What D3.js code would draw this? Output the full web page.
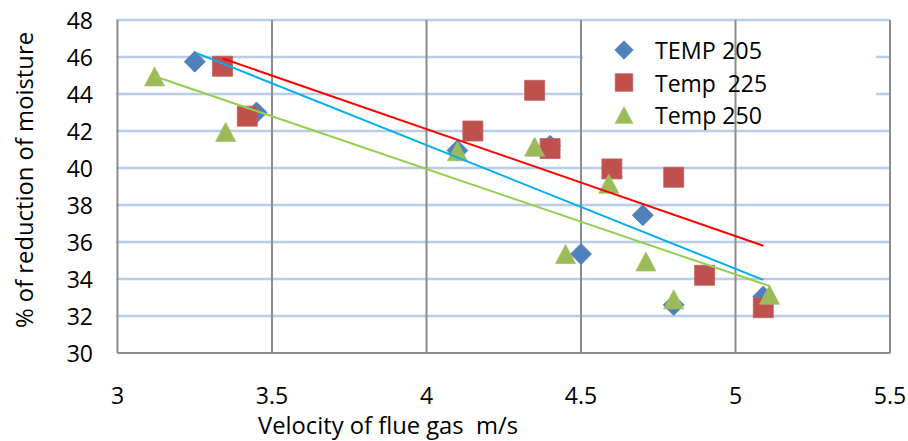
<!DOCTYPE html>
<html>
<head>
<meta charset="utf-8">
<script src="https://cdn.jsdelivr.net/npm/d3@7"></script>
<style>
  html, body { margin: 0; padding: 0; background: #fff; }
  svg text { font-family: "Open Sans", "Liberation Sans", sans-serif; fill: #000; }
</style>
</head>
<body>
<svg id="chart" width="908" height="441"></svg>
<script>
// Velocity of flue gas (m/s) and % moisture reduction for each drying temperature
const velocity205 = [3.25, 3.45, 4.10, 4.40, 4.50, 4.70, 4.80, 5.09];
const moisture205 = [45.75, 43.0, 40.95, 41.2, 35.35, 37.45, 32.6, 33.05];

const velocity225 = [3.34, 3.42, 4.15, 4.35, 4.40, 4.60, 4.80, 4.90, 5.09];
const moisture225 = [45.5, 42.8, 42.0, 44.2, 41.05, 39.95, 39.5, 34.2, 32.45];

const velocity250 = [3.12, 3.35, 4.10, 4.35, 4.45, 4.59, 4.71, 4.80, 5.11];
const moisture250 = [44.95, 41.95, 40.9, 41.15, 35.35, 39.15, 34.95, 32.9, 33.15];

// Linear trend lines: [x start, x end] and [y start, y end]
const trendX205 = [3.25, 5.09], trendY205 = [46.25, 33.95];
const trendX225 = [3.34, 5.09], trendY225 = [45.92, 35.8];
const trendX250 = [3.12, 5.11], trendY250 = [44.96, 33.62];

const seriesNames = ["TEMP 205", "Temp  225", "Temp 250"];
const xTicks = [3, 3.5, 4, 4.5, 5, 5.5];
const yTicks = [30, 32, 34, 36, 38, 40, 42, 44, 46, 48];

const svg = d3.select("#chart");
const plotLeft = 117.5, plotRight = 890, plotTop = 20, plotBottom = 353;

const x = d3.scaleLinear().domain([3, 5.5]).range([plotLeft, plotRight]);
const y = d3.scaleLinear().domain([30, 48]).range([plotBottom, plotTop]);

const series = [
  { name: seriesNames[0], xs: velocity205, ys: moisture205, tx: trendX205, ty: trendY205,
    shape: "diamond", fill: "#4f81bd", stroke: "#4a7ab4", line: "#00b0f0", len: 107 },
  { name: seriesNames[1], xs: velocity225, ys: moisture225, tx: trendX225, ty: trendY225,
    shape: "square", fill: "#c0504d", stroke: "#c25f5c", line: "#ff0000", len: 112 },
  { name: seriesNames[2], xs: velocity250, ys: moisture250, tx: trendX250, ty: trendY250,
    shape: "triangle", fill: "#9bbb59", stroke: "#a3c064", line: "#92d050", len: 107 }
];

function shapePath(shape) {
  if (shape === "diamond") return "M0,-10.5L10.5,0L0,10.5L-10.5,0Z";
  if (shape === "square") return "M-10,-10H10V10H-10Z";
  return "M0,-9.5L10,9.5L-10,9.5Z";
}

// Horizontal gridlines (light blue)
svg.append("g")
  .selectAll("line")
  .data(yTicks.filter(d => d > 30))
  .join("line")
  .attr("x1", plotLeft - 1.5).attr("x2", plotRight)
  .attr("y1", d => y(d)).attr("y2", d => y(d))
  .attr("stroke", "#b9cce8").attr("stroke-width", 2.5);

// Legend background sits over the horizontal gridlines
svg.append("rect")
  .attr("x", 583).attr("y", 23).attr("width", 293).attr("height", 104)
  .attr("fill", "#fff");

// Vertical gridlines (grey)
svg.append("g")
  .selectAll("line")
  .data(xTicks.filter(d => d > 3))
  .join("line")
  .attr("x1", d => x(d)).attr("x2", d => x(d))
  .attr("y1", plotTop).attr("y2", plotBottom)
  .attr("stroke", "#8c8c8c").attr("stroke-width", 2);

// Axis lines
svg.append("line")
  .attr("x1", plotLeft).attr("x2", plotLeft).attr("y1", plotTop).attr("y2", plotBottom)
  .attr("stroke", "#8c8c8c").attr("stroke-width", 2);
svg.append("line")
  .attr("x1", plotLeft).attr("x2", plotRight).attr("y1", plotBottom).attr("y2", plotBottom)
  .attr("stroke", "#8c8c8c").attr("stroke-width", 2);

// Y tick labels
svg.append("g")
  .selectAll("text")
  .data(yTicks)
  .join("text")
  .attr("x", 93).attr("y", d => y(d))
  .attr("text-anchor", "end").attr("dominant-baseline", "central")
  .attr("font-size", 23)
  .text(d => d);

// X tick labels
svg.append("g")
  .selectAll("text")
  .data(xTicks)
  .join("text")
  .attr("x", d => x(d)).attr("y", 395)
  .attr("text-anchor", "middle").attr("dominant-baseline", "central")
  .attr("font-size", 23)
  .text(d => d);

// Axis titles
svg.append("text")
  .attr("x", 388).attr("y", 425)
  .attr("text-anchor", "middle").attr("dominant-baseline", "central")
  .attr("font-size", 23)
  .attr("xml:space", "preserve")
  .attr("textLength", 260).attr("lengthAdjust", "spacingAndGlyphs")
  .text("Velocity of flue gas  m/s");

svg.append("text")
  .attr("transform", "translate(24,180) rotate(-90)")
  .attr("text-anchor", "middle").attr("dominant-baseline", "central")
  .attr("font-size", 23)
  .attr("textLength", 296).attr("lengthAdjust", "spacingAndGlyphs")
  .text("% of reduction of moisture");

// Markers
series.forEach(s => {
  svg.append("g")
    .selectAll("path")
    .data(s.xs.map((v, i) => [v, s.ys[i]]))
    .join("path")
    .attr("d", shapePath(s.shape))
    .attr("transform", d => `translate(${x(d[0])},${y(d[1])})`)
    .attr("fill", s.fill)
    .attr("stroke", s.stroke).attr("stroke-width", 0.8);
});

// Trend lines
series.forEach(s => {
  svg.append("line")
    .attr("x1", x(s.tx[0])).attr("y1", y(s.ty[0]))
    .attr("x2", x(s.tx[1])).attr("y2", y(s.ty[1]))
    .attr("stroke", s.line).attr("stroke-width", 2);
});

// Legend entries
const legend = svg.append("g");
series.forEach((s, i) => {
  const cy = 50 + i * 32.5;
  legend.append("path")
    .attr("d", shapePath(s.shape))
    .attr("transform", `translate(624,${cy}) scale(0.88)`)
    .attr("fill", s.fill).attr("stroke", s.stroke).attr("stroke-width", 0.8);
  legend.append("text")
    .attr("x", 655).attr("y", cy)
    .attr("dominant-baseline", "central")
    .attr("font-size", 23)
    .attr("xml:space", "preserve")
    .attr("textLength", s.len).attr("lengthAdjust", "spacingAndGlyphs")
    .text(s.name);
});
</script>
</body>
</html>
